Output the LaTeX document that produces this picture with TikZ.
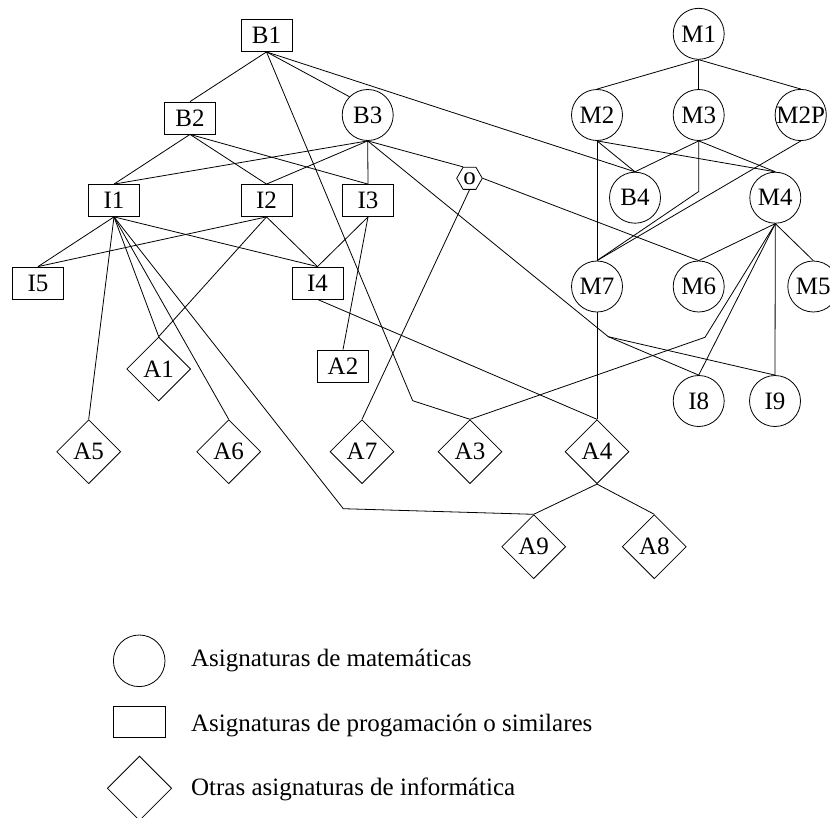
\documentclass[tikz,border=0pt]{standalone}
\usepackage{fontspec}
\setmainfont{Liberation Serif}
\usetikzlibrary{shapes.geometric}
\begin{document}
\begin{tikzpicture}[x=1pt,y=-1pt,line width=0.8pt,
  every node/.style={font=\fontsize{25}{30}\selectfont, inner sep=0pt},
  box/.style={draw, rectangle, minimum width=51pt, minimum height=32pt},
  circ/.style={draw, circle, minimum size=51pt},
  dmd/.style={draw, diamond, minimum width=64pt, minimum height=64pt},
  hex/.style={draw, regular polygon, regular polygon sides=6, minimum size=25.6pt},
  legtext/.style={anchor=base west}]
\useasboundingbox (0,0) rectangle (830,817);
% boxes
\node[box] (B1) at (266.5,35.5) {B1};
\node[box] (B2) at (190,118) {B2};
\node[box] (I1) at (114,200.5) {I1};
\node[box] (I2) at (266.5,200.5) {I2};
\node[box] (I3) at (368,200.5) {I3};
\node[box] (I5) at (38,283) {I5};
\node[box] (I4) at (317.5,283) {I4};
\node[box] (A2) at (343,366) {A2};
% circles
\node[circ] (B3) at (367.7,115) {B3};
\node[circ] (M1) at (698.7,33.8) {M1};
\node[circ] (M2) at (597,115) {M2};
\node[circ] (M3) at (698.7,115) {M3};
\node[circ] (M2P) at (800.7,115) {M2P};
\node[circ] (B4) at (635,197.7) {B4};
\node[circ] (M4) at (775.3,197.7) {M4};
\node[circ] (M7) at (597,286.5) {M7};
\node[circ] (M6) at (698.7,286.5) {M6};
\node[circ] (M5) at (813.3,286.5) {M5};
\node[circ] (I8) at (698.7,401) {I8};
\node[circ] (I9) at (775,401) {I9};
% diamonds
\node[dmd] (A1) at (158.7,369) {A1};
\node[dmd] (A5) at (88.7,451.7) {A5};
\node[dmd] (A6) at (228.7,451.7) {A6};
\node[dmd] (A7) at (362,451.7) {A7};
\node[dmd] (A3) at (470,451.7) {A3};
\node[dmd] (A4) at (597,451.7) {A4};
\node[dmd] (A9) at (533.7,546.7) {A9};
\node[dmd] (A8) at (654.3,546.7) {A8};
% hexagon
\node[hex] (O) at (469.5,178.3) {o};
% bend points
\coordinate (pA3) at (412.7,400.7);
\coordinate (pA9) at (343.3,508.7);
\coordinate (pI8) at (608.3,336.7);
\coordinate (pM4) at (705,337.3);
\coordinate (pM3) at (698.7,191.5);
% connectors
\draw (B1.south) -- (B2.north);
\draw (B1.south) -- (B3.135);
\draw (B1.south) -- (B4.north);
\draw (B1.south) -- (pA3) -- (A3.north);
\draw (B2.south) -- (I1.north);
\draw (B2.south) -- (I2.north);
\draw (B2.south) -- (I3.north);
\draw (B3.south) -- (I1.north);
\draw (B3.south) -- (I2.north);
\draw (B3.south) -- (I3.north);
\draw (B3.south) -- (O.120);
\draw (B3.south) -- (pI8) -- (I8.north);
\draw (pI8) -- (I9.north);
\draw (O.south) -- (A7.north);
\draw (O.east) -- (M6.north);
\draw (I1.south) -- (I5.north);
\draw (I1.south) -- (I4.north);
\draw (I1.south) -- (A5.north);
\draw (I1.south) -- (A1.north);
\draw (I1.south) -- (A6.north);
\draw (I1.south) -- (pA9) -- (A9.north);
\draw (I2.south) -- (I5.north);
\draw (I2.south) -- (A1.north);
\draw (I2.south) -- (I4.north);
\draw (I3.south) -- (I4.north);
\draw (I3.south) -- (A2.north);
\draw (I4.south) -- (A4.north);
\draw (M1.south) -- (M2.north);
\draw (M1.south) -- (M3.north);
\draw (M1.south) -- (M2P.north);
\draw (M2.south) -- (M7.north);
\draw (M2.south) -- (B4.north);
\draw (M2.south) -- (M4.north);
\draw (M3.south) -- (B4.north);
\draw (M3.south) -- (M4.north);
\draw (M3.south) -- (pM3) -- (M7.north);
\draw (M2P.south) -- (M7.north);
\draw (M4.south) -- (M6.north);
\draw (M4.south) -- (M5.north);
\draw (M4.south) -- (I9.north);
\draw (M4.south) -- (I8.north);
\draw (M4.south) -- (pM4) -- (A3.north);
\draw (M7.south) -- (A4.north);
\draw (A4.south) -- (A9.north);
\draw (A4.south) -- (A8.north);
% legend
\node[circ, minimum size=51.6pt] (Lc) at (139.2,660.8) {};
\node[box, minimum width=51.7pt, minimum height=31.7pt] (Lb) at (139.2,721.8) {};
\node[dmd, minimum width=64.4pt, minimum height=64.4pt] (Ld) at (139.5,788.3) {};
\node[legtext] (Tc) at (190.7,666.7) {Asignaturas de matemáticas};
\node[legtext] (Tb) at (190.7,731.7) {Asignaturas de progamación o similares};
\node[legtext] (Td) at (190.7,795) {Otras asignaturas de informática};
\end{tikzpicture}
\end{document}
